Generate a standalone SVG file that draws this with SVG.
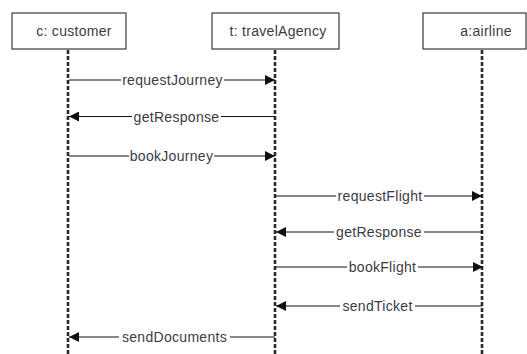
<svg xmlns="http://www.w3.org/2000/svg" width="527" height="354" viewBox="0 0 527 354">
  <style>
    .box { fill: #fff; stroke: #3a3a3a; stroke-width: 1.2; }
    .life { stroke: #2a2a2a; stroke-width: 2.6; stroke-dasharray: 4 2; fill: none; }
    .msg { stroke: #111; stroke-width: 1; fill: none; }
    .t { font-family: "Liberation Sans", Arial, sans-serif; font-size: 14px; fill: #3b3b48; letter-spacing: 0.3px; }
    .lbl { text-anchor: middle; }
    .bg { fill: #fff; }
  </style>
  <defs>
    <marker id="arrow" viewBox="0 0 10 10" refX="10" refY="5" markerWidth="12" markerHeight="10" markerUnits="userSpaceOnUse" orient="auto">
      <path d="M0,0 L10,5 L0,10 z" fill="#111"/>
    </marker>
  </defs>

  <rect width="527" height="354" fill="#fff"/>

  <!-- lifelines -->
  <g id="lifelines">
    <line class="life" x1="68" y1="50" x2="68" y2="354"/>
    <line class="life" x1="275" y1="50" x2="275" y2="354"/>
    <line class="life" x1="482" y1="50" x2="482" y2="354"/>
  </g>

  <!-- participants -->
  <g id="customer">
    <rect class="box" x="12" y="13" width="114" height="36"/>
    <text class="t" x="74" y="36" text-anchor="middle">c: customer</text>
  </g>
  <g id="travelAgency">
    <rect class="box" x="212" y="13" width="127" height="36"/>
    <text class="t" x="278" y="36" text-anchor="middle">t: travelAgency</text>
  </g>
  <g id="airline">
    <rect class="box" x="423" y="13" width="103" height="36"/>
    <text class="t" x="486" y="36" text-anchor="middle">a:airline</text>
  </g>

  <!-- messages -->
  <g id="connectors">
    <g>
      <line class="msg" x1="69" y1="80" x2="275" y2="80" marker-end="url(#arrow)"/>
      <rect class="bg" x="121" y="73" width="103" height="14"/>
      <text class="t lbl" x="172.5" y="85">requestJourney</text>
    </g>
    <g>
      <line class="msg" x1="275" y1="116.5" x2="69" y2="116.5" marker-end="url(#arrow)"/>
      <rect class="bg" x="132" y="109" width="89" height="14"/>
      <text class="t lbl" x="176.5" y="121.5">getResponse</text>
    </g>
    <g>
      <line class="msg" x1="69" y1="156" x2="275" y2="156" marker-end="url(#arrow)"/>
      <rect class="bg" x="129" y="149" width="85" height="14"/>
      <text class="t lbl" x="171.5" y="161">bookJourney</text>
    </g>
    <g>
      <line class="msg" x1="276" y1="196" x2="482" y2="196" marker-end="url(#arrow)"/>
      <rect class="bg" x="336" y="189" width="88" height="14"/>
      <text class="t lbl" x="380" y="201">requestFlight</text>
    </g>
    <g>
      <line class="msg" x1="482" y1="232" x2="276" y2="232" marker-end="url(#arrow)"/>
      <rect class="bg" x="334" y="225" width="90" height="14"/>
      <text class="t lbl" x="379" y="237">getResponse</text>
    </g>
    <g>
      <line class="msg" x1="276" y1="267" x2="483" y2="267" marker-end="url(#arrow)"/>
      <rect class="bg" x="347" y="260" width="71" height="14"/>
      <text class="t lbl" x="382.5" y="272">bookFlight</text>
    </g>
    <g>
      <line class="msg" x1="482" y1="306" x2="276" y2="306" marker-end="url(#arrow)"/>
      <rect class="bg" x="340" y="299" width="75" height="14"/>
      <text class="t lbl" x="377.5" y="311">sendTicket</text>
    </g>
    <g>
      <line class="msg" x1="275" y1="337" x2="69" y2="337" marker-end="url(#arrow)"/>
      <rect class="bg" x="119" y="330" width="111" height="14"/>
      <text class="t lbl" x="174.5" y="342">sendDocuments</text>
    </g>
  </g>
</svg>
